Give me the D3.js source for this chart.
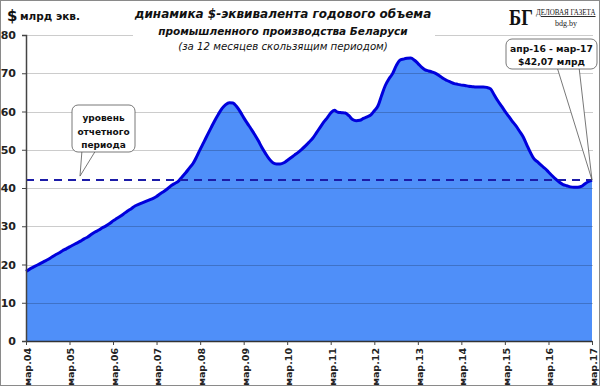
<!DOCTYPE html>
<html>
<head>
<meta charset="utf-8">
<title>динамика $-эквивалента</title>
<script src="https://cdn.jsdelivr.net/npm/d3@7"></script>
<style>
    body { margin: 0; background: #fff; }
    svg { display: block; font-family: "DejaVu Sans", Verdana, sans-serif; }
</style>
</head>
<body>
<script>
    var w = 600;
    var h = 386;

    // monthly values, mar.04 ... mar.17 (12-month rolling, $ bn)
    var startYear = 2004;
    var values = [
        18.2, 18.8, 19.3, 19.8, 20.3, 20.8, 21.3, 21.9, 22.5, 23.0, 23.6, 24.1,
        24.6, 25.1, 25.6, 26.1, 26.7, 27.2, 27.9, 28.5, 29.0, 29.6, 30.1, 30.7,
        31.4, 32.0, 32.6, 33.3, 34.0, 34.6, 35.3, 35.7, 36.1, 36.5, 36.9, 37.3,
        37.8, 38.5, 39.1, 39.8, 40.6, 41.2, 41.8, 42.9, 44.0, 45.2, 46.4, 48.2,
        50.1, 52.0, 53.9, 55.8, 57.6, 59.3, 60.8, 61.8, 62.3, 62.2, 61.3, 59.9,
        58.4, 56.9, 55.5, 54.0, 52.4, 50.6, 49.0, 47.6, 46.6, 46.3, 46.3, 46.6,
        47.2, 47.9, 48.6, 49.3, 50.1, 51.0, 52.0, 53.0, 54.4, 55.8, 57.2, 58.4,
        59.6, 60.3, 59.8, 59.7, 59.6, 58.9, 57.9, 57.6, 57.7, 58.2, 58.6, 59.1,
        60.2, 61.5, 64.2, 66.8, 68.5, 69.9, 72.0, 73.4, 73.7, 73.9, 74.0, 73.4,
        72.6, 71.6, 70.9, 70.6, 70.3, 69.9, 69.3, 68.6, 68.1, 67.7, 67.3, 67.1,
        66.9, 66.8, 66.6, 66.5, 66.4, 66.4, 66.4, 66.3, 65.9, 64.4, 62.8, 61.4,
        60.1, 58.8, 57.5, 56.3, 54.9, 53.4, 51.3, 49.3, 47.6, 46.8, 45.9, 45.1,
        44.2, 43.2, 42.3, 41.5, 40.9, 40.6, 40.3, 40.2, 40.2, 40.4, 41.1, 41.7,
        42.07
    ];
    var lastValue = 42.07;
    var yTicks = [0, 10, 20, 30, 40, 50, 60, 70, 80];
    var tickYears = ["04", "05", "06", "07", "08", "09", "10", "11", "12", "13", "14", "15", "16", "17"];

    var titleLines = ["динамика $-эквивалента годового объема",
                      "промышленного производства Беларуси",
                      "(за 12 месяцев скользящим периодом)"];
    var leftNote = ["уровень", "отчетного", "периода"];
    var rightNote = ["апр-16 - мар-17", "$42,07 млрд"];

    var data = values.map(function(v, i) {
        return { date: new Date(startYear, 2 + i, 1), value: v };
    });

    var pLeft = 26, pRight = 592, pTop = 35, pBottom = 341;

    var x = d3.scaleTime()
        .domain([data[0].date, data[data.length - 1].date])
        .range([pLeft, pRight]);
    var y = d3.scaleLinear().domain([0, 80]).range([pBottom, pTop]);

    var svg = d3.select("body").append("svg")
        .attr("width", w)
        .attr("height", h);

    svg.append("rect")
        .attr("x", 0.5).attr("y", 0.5)
        .attr("width", w - 1).attr("height", h - 1)
        .attr("fill", "#fff")
        .attr("stroke", "#8a8a8a");

    // area + line
    var area = d3.area()
        .x(function(d) { return x(d.date); })
        .y0(y(0))
        .y1(function(d) { return y(d.value); })
        .curve(d3.curveMonotoneX);
    var line = d3.line()
        .x(function(d) { return x(d.date); })
        .y(function(d) { return y(d.value); })
        .curve(d3.curveMonotoneX);

    svg.append("path")
        .datum(data)
        .attr("d", area)
        .attr("fill", "#4f8ff9");

    // grid (drawn over the area, semi-transparent)
    svg.append("g")
        .selectAll("line")
        .data(yTicks.slice(1))
        .enter()
        .append("line")
        .attr("x1", pLeft)
        .attr("x2", pRight + 1)
        .attr("y1", function(d) { return Math.round(y(d)) + 0.5; })
        .attr("y2", function(d) { return Math.round(y(d)) + 0.5; })
        .attr("stroke", "#000")
        .attr("stroke-opacity", 0.2);

    svg.append("path")
        .datum(data)
        .attr("d", line)
        .attr("fill", "none")
        .attr("stroke", "#0000dc")
        .attr("stroke-width", 3)
        .attr("stroke-linejoin", "round");

    // reference level
    svg.append("line")
        .attr("x1", pLeft)
        .attr("x2", pRight)
        .attr("y1", y(lastValue))
        .attr("y2", y(lastValue))
        .attr("stroke", "#1c1ca8")
        .attr("stroke-width", 2)
        .attr("stroke-dasharray", "8,6");

    // axes
    var yAxis = d3.axisLeft(y).tickValues(yTicks).tickSize(4).tickPadding(6);
    var gy = svg.append("g")
        .attr("transform", "translate(" + pLeft + ",0)")
        .call(yAxis);
    gy.select(".domain").attr("stroke", "#444").attr("stroke-width", 1.5);
    gy.selectAll(".tick line").attr("stroke", "#444");
    gy.selectAll("text")
        .attr("font-family", "DejaVu Sans")
        .attr("font-size", "11px")
        .attr("font-weight", "bold")
        .attr("fill", "#222");

    var tickDates = tickYears.map(function(yy) { return new Date(2000 + (+yy), 2, 1); });
    var xAxis = d3.axisBottom(x)
        .tickValues(tickDates)
        .tickSize(4)
        .tickSizeOuter(0)
        .tickFormat(function(d, i) { return "мар." + tickYears[i]; });
    var gx = svg.append("g")
        .attr("transform", "translate(0," + pBottom + ")")
        .call(xAxis);
    gx.select(".domain").attr("stroke", "#333").attr("stroke-width", 1.5);
    gx.selectAll(".tick line").attr("stroke", "#444");
    gx.selectAll("text")
        .attr("font-family", "DejaVu Sans")
        .attr("font-size", "9.5px")
        .attr("font-weight", "bold")
        .attr("fill", "#222")
        .attr("text-anchor", "end")
        .attr("transform", "rotate(-90)")
        .attr("x", -7)
        .attr("y", 1)
        .attr("dy", "0.35em");

    // unit label
    svg.append("text")
        .attr("x", 7).attr("y", 21)
        .attr("font-size", "15px").attr("font-weight", "bold").attr("fill", "#111")
        .text("$");
    svg.append("text")
        .attr("x", 20).attr("y", 20)
        .attr("font-size", "10.5px").attr("font-weight", "bold").attr("fill", "#111")
        .text("млрд экв.");

    // title (white box hides the top gridline behind it)
    svg.append("rect")
        .attr("x", 133).attr("y", 2)
        .attr("width", 302).attr("height", 53)
        .attr("fill", "#fff");
    var titleSizes = [12, 10.5, 10.2];
    var titleY = [18, 35, 50];
    titleLines.forEach(function(t, i) {
        svg.append("text")
            .attr("x", 283)
            .attr("y", titleY[i])
            .attr("text-anchor", "middle")
            .attr("font-size", titleSizes[i] + "px")
            .attr("font-style", "italic")
            .attr("font-weight", i < 2 ? "bold" : "normal")
            .attr("fill", "#111")
            .text(t);
    });

    // logo
    svg.append("text")
        .attr("transform", "translate(509,25) scale(0.8,1)")
        .attr("font-family", "Liberation Serif, serif")
        .attr("font-size", "23px").attr("font-weight", "bold").attr("fill", "#111")
        .text("БГ");
    svg.append("text")
        .attr("transform", "translate(536,15) scale(0.78,1)")
        .attr("font-family", "Liberation Serif, serif")
        .attr("font-size", "9px").attr("fill", "#111")
        .attr("text-decoration", "underline")
        .text("ДЕЛОВАЯ ГАЗЕТА");
    svg.append("text")
        .attr("x", 566).attr("y", 26)
        .attr("text-anchor", "middle")
        .attr("font-family", "Liberation Serif, serif")
        .attr("font-size", "8px").attr("fill", "#222")
        .text("bdg.by");

    // callouts
    function callout(bx, by, bw, bh, tips, lines, lineY, fs) {
        var g = svg.append("g");
        tips.forEach(function(t) {
            g.append("path")
                .attr("d", "M" + t[0] + "," + t[1] + "L" + t[2] + "," + t[3] + "L" + t[4] + "," + t[5] + "Z")
                .attr("fill", "#fff")
                .attr("stroke", "#555")
                .attr("stroke-width", 0.8);
        });
        g.append("rect")
            .attr("x", bx).attr("y", by)
            .attr("width", bw).attr("height", bh)
            .attr("rx", 6)
            .attr("fill", "#fff")
            .attr("stroke", "#555")
            .attr("stroke-width", 0.8);
        lines.forEach(function(t, i) {
            g.append("text")
                .attr("x", bx + bw / 2)
                .attr("y", lineY[i])
                .attr("text-anchor", "middle")
                .attr("font-size", fs + "px")
                .attr("font-weight", "bold")
                .attr("fill", "#111")
                .text(t);
        });
    }

    callout(72, 105, 63, 47, [[82, 150, 80, y(lastValue) - 4, 96, 150]], leftNote, [121, 135, 148], 9);
    callout(506, 39, 91, 30, [[557, 67, x(data[data.length - 1].date), y(lastValue), 579, 67]], rightNote, [52, 65], 9.2);
</script>
</body>
</html>
